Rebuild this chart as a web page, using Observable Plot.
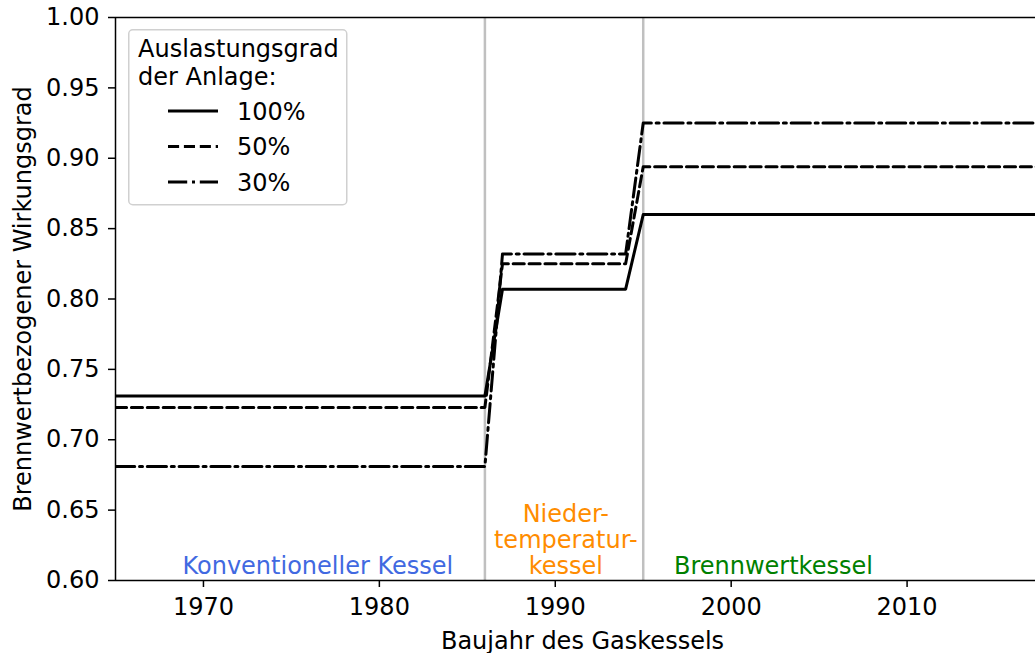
<!DOCTYPE html>
<html>
<head>
<meta charset="utf-8">
<script src="https://cdn.jsdelivr.net/npm/d3@7"></script>
<script src="https://cdn.jsdelivr.net/npm/@observablehq/plot@0.6"></script>
<style>
  body { margin: 0; background: #fff; }
  #wrap { position: relative; width: 1035px; height: 653px; font-family: "DejaVu Sans", sans-serif; }
  #legend { position: absolute; left: 128px; top: 29px; }
</style>
</head>
<body>
<div id="wrap"></div>
<script>
// ---- data ----
const years = [1965, 1986, 1987, 1994, 1995, 2020];
const series = ["100%", "50%", "30%"];
const eff100 = [0.731, 0.731, 0.807, 0.807, 0.860, 0.860];
const eff50  = [0.723, 0.723, 0.825, 0.825, 0.894, 0.894];
const eff30  = [0.681, 0.681, 0.832, 0.832, 0.925, 0.925];
const dashes = [null, "11.1,4.8", "19.2,4.8,3,4.8"];
const boundaryYears = [1986, 1995];
const regionLabels = ["Konventioneller Kessel", "Nieder-\ntemperatur-\nkessel", "Brennwertkessel"];
const regionX = [1976.5, 1990.6, 2002.4];
const regionColors = ["#4169e1", "#ff8c00", "#008000"];
const xTicks = [1970, 1980, 1990, 2000, 2010];
const yTicks = [0.60, 0.65, 0.70, 0.75, 0.80, 0.85, 0.90, 0.95, 1.00];
const xLabel = "Baujahr des Gaskessels";
const yLabel = "Brennwertbezogener Wirkungsgrad";
const legendTitle = ["Auslastungsgrad", "der Anlage:"];

const values = [eff100, eff50, eff30];
const lineMarks = series.map((s, i) => {
  const pts = years.map((yr, j) => ({year: yr, eff: values[i][j]}));
  return Plot.line(pts, {x: "year", y: "eff", stroke: "black", strokeWidth: 3,
    strokeDasharray: dashes[i] || undefined, clip: true});
});
const regions = regionLabels.map((t, i) => ({t, x: regionX[i], c: regionColors[i]}));

const chart = Plot.plot({
  width: 1035, height: 653,
  marginTop: 17, marginLeft: 115, marginRight: 0, marginBottom: 73,
  style: {fontFamily: "DejaVu Sans, sans-serif", fontSize: "24px", color: "black", background: "white"},
  x: {domain: [1965, 2017.3]},
  y: {domain: [0.6, 1.0]},
  marks: [
    Plot.ruleX(boundaryYears, {stroke: "#c0c0c0", strokeWidth: 2.5}),
    ...lineMarks,
    Plot.text(regions, {x: "x", y: () => 0.6, text: "t", fill: "c", lineAnchor: "bottom",
      dy: -7, lineHeight: 1.07, fontSize: 24}),
    Plot.ruleY([1.0], {stroke: "black", strokeWidth: 1.5}),
    Plot.ruleY([0.6], {stroke: "black", strokeWidth: 1.5}),
    Plot.ruleX([1965], {stroke: "black", strokeWidth: 1.5}),
    Plot.axisX({ticks: xTicks, tickFormat: d => String(d), tickSize: 7, tickPadding: 10,
      strokeWidth: 1.5, fontSize: 24, label: null}),
    Plot.text([xLabel], {frameAnchor: "bottom", text: d => d, dx: 7, dy: 68,
      lineAnchor: "bottom", fontSize: 24}),
    Plot.axisY({ticks: yTicks, tickFormat: d3.format(".2f"), tickSize: 7, tickPadding: 9,
      strokeWidth: 1.5, fontSize: 24,
      label: yLabel, labelAnchor: "center", labelArrow: "none", labelOffset: 102})
  ]
});
const wrap = document.getElementById("wrap");
wrap.appendChild(chart);

// legend overlay
const leg = d3.create("svg").attr("id", "legend").attr("width", 220).attr("height", 177)
  .style("font-family", "DejaVu Sans, sans-serif").style("font-size", "24px");
leg.append("rect").attr("x", 0.75).attr("y", 0.75).attr("width", 218).attr("height", 175)
  .attr("rx", 4).attr("fill", "white").attr("fill-opacity", 0.85)
  .attr("stroke", "#d0d0d0").attr("stroke-width", 1.5);
legendTitle.forEach((t, i) => {
  leg.append("text").attr("x", 10).attr("y", 28 + i * 28).text(t);
});
series.forEach((s, i) => {
  const yLine = 82 + i * 35.5;
  leg.append("line").attr("x1", 40).attr("x2", 90).attr("y1", yLine).attr("y2", yLine)
    .attr("stroke", "black").attr("stroke-width", 3)
    .attr("stroke-dasharray", dashes[i]);
  leg.append("text").attr("x", 109).attr("y", yLine + 8.5).text(s);
});
wrap.appendChild(leg.node());
</script>
</body>
</html>
